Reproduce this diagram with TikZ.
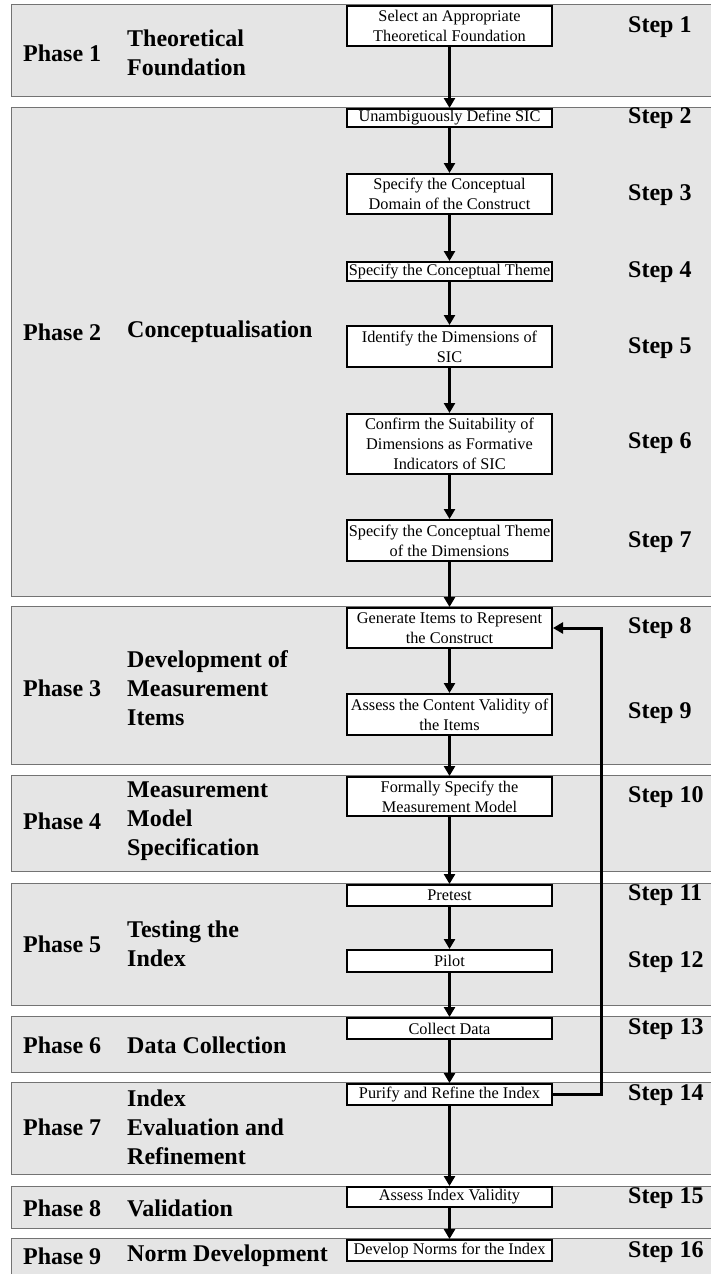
\documentclass[tikz,border=0pt]{standalone}
\usepackage{fontspec}
\setmainfont{Liberation Serif}
\usetikzlibrary{arrows.meta}
\begin{document}
\begin{tikzpicture}[x=1pt,y=-1pt,
  band/.style={draw=black!55, line width=1pt, fill=black!10},
  stepbox/.style={draw, line width=2.4pt, fill=white, minimum width=204.6pt,
    inner sep=0pt, align=center, font=\fontsize{16.3}{20}\selectfont},
  phaselbl/.style={anchor=west, inner sep=0pt, align=left,
    font=\fontsize{24}{29}\selectfont\bfseries},
  steplbl/.style={anchor=west, inner sep=0pt,
    font=\fontsize{24}{29}\selectfont\bfseries},
  flow/.style={line width=3pt, -{Triangle[length=10pt,width=11pt]}}
]
\useasboundingbox (0,0) rectangle (711,1274);
\fill[white] (0,0) rectangle (711,1274);
\clip (0,0) rectangle (711,1274);

% phase bands
\path[band] (11,4)    rectangle (720,96);
\path[band] (11,107)  rectangle (720,596);
\path[band] (11,606)  rectangle (720,764);
\path[band] (11,775)  rectangle (720,871);
\path[band] (11,883)  rectangle (720,1005);
\path[band] (11,1016) rectangle (720,1072);
\path[band] (11,1082) rectangle (720,1174);
\path[band] (11,1186) rectangle (720,1228);
\path[band] (11,1238) rectangle (720,1290);

% phase numbers
\node[phaselbl] (p1) at (23,53)   {Phase 1};
\node[phaselbl] (p2) at (23,332)  {Phase 2};
\node[phaselbl] (p3) at (23,688)  {Phase 3};
\node[phaselbl] (p4) at (23,821)  {Phase 4};
\node[phaselbl] (p5) at (23,944)  {Phase 5};
\node[phaselbl] (p6) at (23,1045) {Phase 6};
\node[phaselbl] (p7) at (23,1127) {Phase 7};
\node[phaselbl] (p8) at (23,1208) {Phase 8};
\node[phaselbl] (p9) at (23,1256) {Phase 9};

% phase titles
\node[phaselbl] (t1) at (127,53)   {Theoretical\\Foundation};
\node[phaselbl] (t2) at (127,332)  {Conceptualisation};
\node[phaselbl] (t3) at (127,688)  {Development of\\Measurement\\Items};
\node[phaselbl] (t4) at (127,821)  {Measurement\\Model\\Specification};
\node[phaselbl] (t5) at (127,944)  {Testing the\\Index};
\node[phaselbl] (t6) at (127,1045) {Data Collection};
\node[phaselbl] (t7) at (127,1127) {Index\\Evaluation and\\Refinement};
\node[phaselbl] (t8) at (127,1208) {Validation};
\node[phaselbl] (t9) at (127,1256) {Norm Development};

% process boxes
\node[stepbox, minimum height=39.6pt] (b1)  at (449.5,26)    {Select an Appropriate\\Theoretical Foundation};
\node[stepbox, minimum height=17.6pt] (b2)  at (449.5,118)   {Unambiguously Define SIC};
\node[stepbox, minimum height=39.6pt] (b3)  at (449.5,194)   {Specify the Conceptual\\Domain of the Construct};
\node[stepbox, minimum height=18.6pt] (b4)  at (449.5,271.5) {Specify the Conceptual Theme};
\node[stepbox, minimum height=40.6pt] (b5)  at (449.5,346.5) {Identify the Dimensions of\\SIC};
\node[stepbox, minimum height=59.6pt] (b6)  at (449.5,444)   {Confirm the Suitability of\\Dimensions as Formative\\Indicators of SIC};
\node[stepbox, minimum height=40.6pt] (b7)  at (449.5,540.5) {Specify the Conceptual Theme\\of the Dimensions};
\node[stepbox, minimum height=39.6pt] (b8)  at (449.5,628)   {Generate Items to Represent\\the Construct};
\node[stepbox, minimum height=40.6pt] (b9)  at (449.5,714.5) {Assess the Content Validity of\\the Items};
\node[stepbox, minimum height=38.6pt] (b10) at (449.5,796.5) {Formally Specify the\\Measurement Model};
\node[stepbox, minimum height=20.6pt] (b11) at (449.5,895.5) {Pretest};
\node[stepbox, minimum height=21.6pt] (b12) at (449.5,961)   {Pilot};
\node[stepbox, minimum height=20.6pt] (b13) at (449.5,1028.5){Collect Data};
\node[stepbox, minimum height=20.6pt] (b14) at (449.5,1094.5){Purify and Refine the Index};
\node[stepbox, minimum height=19.6pt] (b15) at (449.5,1197)  {Assess Index Validity};
\node[stepbox, minimum height=20.6pt] (b16) at (449.5,1250.5){Develop Norms for the Index};

% step numbers
\node[steplbl] (s1)  at (628,27)   {Step 1};
\node[steplbl] (s2)  at (628,118)  {Step 2};
\node[steplbl] (s3)  at (628,195)  {Step 3};
\node[steplbl] (s4)  at (628,272)  {Step 4};
\node[steplbl] (s5)  at (628,348)  {Step 5};
\node[steplbl] (s6)  at (628,443)  {Step 6};
\node[steplbl] (s7)  at (628,542)  {Step 7};
\node[steplbl] (s8)  at (628,628)  {Step 8};
\node[steplbl] (s9)  at (628,713)  {Step 9};
\node[steplbl] (s10) at (628,797)  {Step 10};
\node[steplbl] (s11) at (628,895)  {Step 11};
\node[steplbl] (s12) at (628,962)  {Step 12};
\node[steplbl] (s13) at (628,1029) {Step 13};
\node[steplbl] (s14) at (628,1095) {Step 14};
\node[steplbl] (s15) at (628,1198) {Step 15};
\node[steplbl] (s16) at (628,1252) {Step 16};

% main sequence
\foreach \a/\b in {b1/b2,b2/b3,b3/b4,b4/b5,b5/b6,b6/b7,b7/b8,b8/b9,b9/b10,
                   b10/b11,b11/b12,b12/b13,b13/b14,b14/b15,b15/b16}
  \draw[flow] (\a.south) -- (\b.north);

% refinement loop back to item generation
\coordinate (loop) at (601,1094.5);
\draw[flow] (b14.east) -- (loop) |- (b8.east);
\end{tikzpicture}
\end{document}
